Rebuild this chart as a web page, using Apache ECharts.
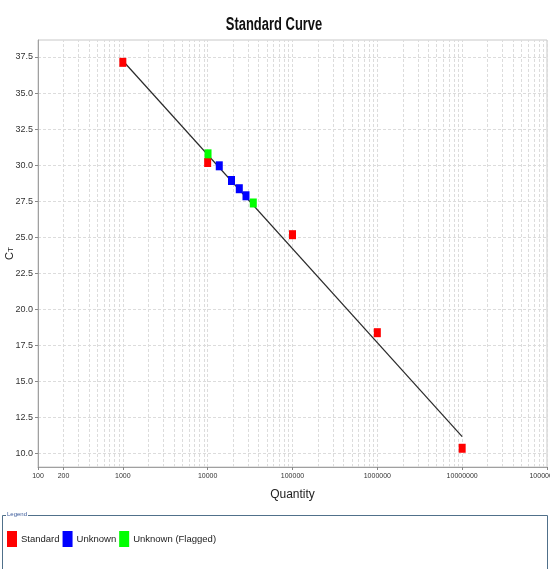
<!DOCTYPE html>
<html>
<head>
<meta charset="utf-8">
<script src="https://cdn.jsdelivr.net/npm/echarts@6/dist/echarts.min.js"></script>
<style>
  html, body { margin: 0; padding: 0; background: #fff; }
  #chart { width: 550px; height: 569px; }
</style>
</head>
<body>
<div id="chart"></div>
<script>
// data
const standardQty = [1000, 10000, 100000, 1000000, 10000000];
const standardCt = [37.13, 30.18, 25.17, 18.37, 10.35];
const unknownQty = [13700, 19100, 23600, 28300];
const unknownCt = [29.95, 28.93, 28.36, 27.87];
const flaggedQty = [10100, 34500];
const flaggedCt = [30.78, 27.37];
const fitQty = [1000, 10000000];
const fitCt = [37.24, 11.16];

const yTicks = [10, 12.5, 15, 17.5, 20, 22.5, 25, 27.5, 30, 32.5, 35, 37.5];
const xTickLabels = [100, 200, 1000, 10000, 100000, 1000000, 10000000, 100000000];

// vertical grid lines at 1..9 of every decade
const xGrid = [];
for (let d = 100; d < 100000000; d *= 10) {
  for (let m = 1; m < 10; m++) xGrid.push(d * m);
}
xGrid.push(100000000);

const pairs = (xs, ys) => xs.map((x, i) => [x, ys[i]]);

const font = '"Liberation Sans", Arial, sans-serif';
const gridLine = { color: '#dcdcdc', type: [3, 2], width: 1 };

const chart = echarts.init(document.getElementById('chart'));

const option = {
  animation: false,
  grid: {
    left: 38, right: 3, top: 40, bottom: 102,
    outerBoundsMode: 'none',
    show: true, borderColor: '#c8c8c8', borderWidth: 1
  },
  legend: {
    left: 2,
    top: 526,
    icon: 'rect',
    itemWidth: 10,
    itemHeight: 16,
    itemGap: 3,
    textStyle: { fontFamily: font, fontSize: 9.5, color: '#222', padding: [0, 0, 0, -1] },
    data: ['Standard', 'Unknown', 'Unknown (Flagged)']
  },
  xAxis: {
    type: 'log',
    logBase: 10,
    min: 100,
    max: 100000000,
    name: 'Quantity',
    nameLocation: 'middle',
    nameGap: 22,
    nameMoveOverlap: false,
    nameTextStyle: { fontFamily: font, fontSize: 12, color: '#222' },
    axisLine: { lineStyle: { color: '#a0a0a0' } },
    axisTick: { show: true, length: 3, customValues: xTickLabels, lineStyle: { color: '#888' } },
    axisLabel: {
      customValues: xTickLabels,
      fontFamily: font, fontSize: 7, color: '#333', margin: 6,
      formatter: v => String(Math.round(v))
    },
    splitLine: { show: false }
  },
  yAxis: {
    type: 'value',
    min: 9.05,
    max: 38.68,
    name: '{c|C}{t|T}',
    nameLocation: 'middle',
    nameGap: 23,
    nameMoveOverlap: false,
    nameTextStyle: {
      rich: {
        c: { fontFamily: font, fontSize: 11, color: '#222' },
        t: { fontFamily: font, fontSize: 8, color: '#222', verticalAlign: 'bottom' }
      }
    },
    axisLine: { show: true, lineStyle: { color: '#a0a0a0' } },
    axisTick: { show: true, length: 3, customValues: yTicks, lineStyle: { color: '#888' } },
    axisLabel: {
      customValues: yTicks,
      fontFamily: font, fontSize: 9, color: '#333', margin: 5,
      formatter: v => v.toFixed(1)
    },
    splitLine: { show: false }
  },
  series: [
    {
      name: 'grid',
      type: 'line',
      data: [],
      z: 0,
      markLine: {
        silent: true,
        symbol: 'none',
        animation: false,
        z: 0,
        label: { show: false },
        emphasis: { disabled: true },
        lineStyle: gridLine,
        data: yTicks.map(v => ({ yAxis: v })).concat(xGrid.map(v => ({ xAxis: v })))
      }
    },
    {
      name: 'fit',
      type: 'line',
      data: pairs(fitQty, fitCt),
      symbol: 'none',
      lineStyle: { color: '#2a2a2a', width: 1.2 },
      z: 2
    },
    {
      name: 'Standard',
      type: 'scatter',
      data: pairs(standardQty, standardCt),
      symbol: 'rect',
      symbolSize: [7, 9],
      itemStyle: { color: '#ff0000', opacity: 1 },
      z: 3
    },
    {
      name: 'Unknown',
      type: 'scatter',
      data: pairs(unknownQty, unknownCt),
      symbol: 'rect',
      symbolSize: [7, 9],
      itemStyle: { color: '#0000ff', opacity: 1 },
      z: 4
    },
    {
      name: 'Unknown (Flagged)',
      type: 'scatter',
      data: pairs(flaggedQty, flaggedCt),
      symbol: 'rect',
      symbolSize: [7, 9],
      itemStyle: { color: '#00ff00', opacity: 1 },
      z: 5
    }
  ],
  graphic: [
    {
      // condensed bold title
      type: 'text',
      x: 274,
      y: 25,
      scaleX: 0.72,
      style: {
        text: 'Standard Curve',
        fontFamily: font,
        fontSize: 18,
        fontWeight: 'bold',
        fill: '#111',
        align: 'center',
        verticalAlign: 'middle'
      },
      silent: true
    },
    {
      type: 'rect',
      shape: { x: 2.5, y: 515.5, width: 545, height: 80 },
      style: { fill: 'none', stroke: '#50708a', lineWidth: 1 },
      silent: true
    },
    {
      type: 'text',
      left: 6,
      top: 511,
      style: {
        text: 'Legend',
        fontFamily: font,
        fontSize: 6,
        fill: '#3a5a9a',
        backgroundColor: '#fff',
        padding: [0, 1]
      },
      silent: true
    }
  ]
};

chart.setOption(option);
</script>
</body>
</html>
